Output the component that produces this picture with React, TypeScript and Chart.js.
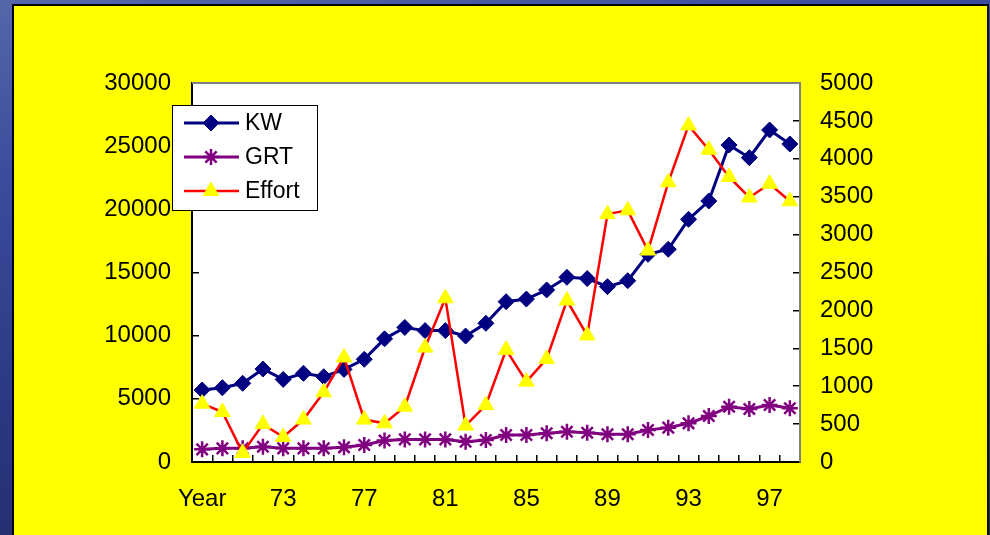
import React, { useEffect, useRef } from 'react';
import { Chart, registerables } from 'chart.js';
import { drawPoint } from 'chart.js/helpers';

Chart.register(...registerables);

const categories = ['Year', '70', '71', '72', '73', '74', '75', '76', '77', '78', '79', '80', '81', '82', '83', '84', '85', '86', '87', '88', '89', '90', '91', '92', '93', '94', '95', '96', '97', '98'];
const kwValues = [5700, 5880, 6230, 7360, 6540, 7020, 6750, 7330, 8130, 9750, 10650, 10400, 10400, 9970, 10980, 12690, 12900, 13620, 14620, 14520, 13880, 14350, 16440, 16840, 19210, 20660, 25090, 24090, 26280, 25170];
const grtValues = [1000, 1080, 1080, 1210, 1080, 1080, 1080, 1160, 1345, 1700, 1790, 1790, 1790, 1610, 1740, 2140, 2140, 2270, 2400, 2320, 2190, 2190, 2530, 2720, 3060, 3640, 4380, 4200, 4510, 4250];
const effortValues = [770, 660, 120, 500, 330, 560, 920, 1380, 560, 510, 730, 1510, 2160, 480, 750, 1480, 1060, 1360, 2130, 1670, 3270, 3320, 2790, 3690, 4440, 4120, 3760, 3490, 3670, 3440];
const seriesNames = ['KW', 'GRT', 'Effort'];
const leftAxisMax = 30000;
const leftAxisStep = 5000;
const rightAxisMax = 5000;
const rightAxisStep = 500;

const FONT = '"Liberation Sans", Arial, sans-serif';
const NAVY = '#000080';
const PURPLE = '#800080';
const RED = '#FF0000';
const YELLOW = '#FFFF00';

const legendStyles = [
  { line: NAVY, fill: NAVY, stroke: NAVY, pointStyle: 'rectRot', radius: 8, borderWidth: 1, lineWidth: 3 },
  { line: PURPLE, fill: PURPLE, stroke: PURPLE, pointStyle: 'star', radius: 8, borderWidth: 2.5, lineWidth: 3 },
  { line: RED, fill: YELLOW, stroke: YELLOW, pointStyle: 'triangle', radius: 9, borderWidth: 1, lineWidth: 2.5 },
];

const framePlugin = {
  id: 'framePlugin',
  beforeDraw(chart: any) {
    const { ctx, chartArea: a } = chart;
    ctx.save();
    ctx.fillStyle = '#FFFFFF';
    ctx.fillRect(a.left, a.top, a.right - a.left, a.bottom - a.top);
    ctx.restore();
  },
  afterDatasetsDraw(chart: any) {
    const { ctx, chartArea: a } = chart;
    ctx.save();
    ctx.strokeStyle = '#808080';
    ctx.lineWidth = 2;
    ctx.beginPath();
    ctx.moveTo(a.left, a.top);
    ctx.lineTo(a.right, a.top);
    ctx.stroke();
    ctx.restore();
  },
  afterDraw(chart: any) {
    const { ctx, chartArea: a } = chart;
    const bx = a.left - 20;
    const by = a.top + 22;
    const bw = 145;
    const bh = 105;
    ctx.save();
    ctx.fillStyle = '#FFFFFF';
    ctx.fillRect(bx, by, bw, bh);
    ctx.strokeStyle = '#000000';
    ctx.lineWidth = 1;
    ctx.strokeRect(bx + 0.5, by + 0.5, bw, bh);
    seriesNames.forEach((name, i) => {
      const s = legendStyles[i];
      const y = by + 18 + i * 34;
      ctx.strokeStyle = s.line;
      ctx.lineWidth = s.lineWidth;
      ctx.beginPath();
      ctx.moveTo(bx + 12, y);
      ctx.lineTo(bx + 67, y);
      ctx.stroke();
      ctx.fillStyle = s.fill;
      ctx.strokeStyle = s.stroke;
      ctx.lineWidth = s.borderWidth;
      drawPoint(ctx, { pointStyle: s.pointStyle, radius: s.radius, borderWidth: s.borderWidth, rotation: 0 } as any, bx + 39, y);
      ctx.fillStyle = '#000000';
      ctx.font = `23px ${FONT}`;
      ctx.textBaseline = 'middle';
      ctx.textAlign = 'left';
      ctx.fillText(name, bx + 73, y + 1);
    });
    ctx.restore();
  },
};

export default function App() {
  const canvasRef = useRef<HTMLCanvasElement | null>(null);

  useEffect(() => {
    const canvas = canvasRef.current;
    if (!canvas) return;
    const chart = new Chart(canvas, {
      type: 'line',
      data: {
        labels: categories,
        datasets: [
          {
            label: seriesNames[0],
            data: kwValues,
            yAxisID: 'y',
            borderColor: NAVY,
            backgroundColor: NAVY,
            borderWidth: 3,
            pointStyle: 'rectRot',
            pointRadius: 8,
            pointBorderWidth: 1,
            pointBackgroundColor: NAVY,
            pointBorderColor: NAVY,
            tension: 0,
            order: 2,
            clip: false,
          },
          {
            label: seriesNames[1],
            data: grtValues,
            yAxisID: 'y',
            borderColor: PURPLE,
            backgroundColor: PURPLE,
            borderWidth: 3,
            pointStyle: 'star',
            pointRadius: 8,
            pointBorderWidth: 2.5,
            pointBackgroundColor: PURPLE,
            pointBorderColor: PURPLE,
            tension: 0,
            order: 1,
            clip: false,
          },
          {
            label: seriesNames[2],
            data: effortValues,
            yAxisID: 'y1',
            borderColor: RED,
            backgroundColor: YELLOW,
            borderWidth: 2.5,
            pointStyle: 'triangle',
            pointRadius: 9,
            pointBorderWidth: 1,
            pointBackgroundColor: YELLOW,
            pointBorderColor: YELLOW,
            tension: 0,
            order: 0,
            clip: false,
          },
        ],
      },
      options: {
        responsive: false,
        animation: false,
        layout: { padding: { left: 72, right: 70, top: 83, bottom: 23 } },
        plugins: {
          legend: { display: false },
          tooltip: { enabled: false },
          title: { display: false },
        },
        scales: {
          x: {
            type: 'category',
            offset: true,
            grid: {
              offset: true,
              drawOnChartArea: false,
              drawTicks: true,
              tickLength: -7,
              color: '#000000',
              lineWidth: 1.5,
            },
            border: { display: true, color: '#000000', width: 2 },
            ticks: {
              autoSkip: false,
              maxRotation: 0,
              minRotation: 0,
              padding: 30,
              color: '#000000',
              font: { family: FONT, size: 24 },
              callback: (_v: any, i: number) => (i % 4 === 0 ? categories[i] : ''),
            },
            afterFit: (s: any) => { s.height = 50; },
          },
          y: {
            type: 'linear',
            position: 'left',
            min: 0,
            max: leftAxisMax,
            grid: {
              drawOnChartArea: false,
              drawTicks: true,
              tickLength: -7,
              color: '#000000',
              lineWidth: 1.5,
            },
            border: { display: true, color: '#000000', width: 2 },
            ticks: {
              stepSize: leftAxisStep,
              padding: 28,
              color: '#000000',
              font: { family: FONT, size: 24 },
              callback: (v: any) => String(v),
            },
            afterFit: (s: any) => { s.width = 120; },
          },
          y1: {
            type: 'linear',
            position: 'right',
            min: 0,
            max: rightAxisMax,
            grid: {
              drawOnChartArea: false,
              drawTicks: true,
              tickLength: -7,
              color: '#000000',
              lineWidth: 1.5,
            },
            border: { display: true, color: '#808080', width: 2 },
            ticks: {
              stepSize: rightAxisStep,
              padding: 27,
              color: '#000000',
              font: { family: FONT, size: 24 },
              callback: (v: any) => String(v),
            },
            afterFit: (s: any) => { s.width = 120; },
          },
        },
      },
      plugins: [framePlugin],
    } as any);
    return () => chart.destroy();
  }, []);

  return (
    <div
      style={{
        position: 'absolute',
        left: 0,
        top: 0,
        width: 990,
        height: 535,
        overflow: 'hidden',
        background: 'linear-gradient(170deg, #5566aa 0%, #3c4c9c 25%, #2a3680 60%, #1d275c 100%)',
      }}
    >
      <div
        style={{
          position: 'absolute',
          left: 12,
          top: 4,
          width: 977,
          height: 545,
          boxSizing: 'border-box',
          background: YELLOW,
          borderLeft: '2px solid #000',
          borderTop: '2px solid #000',
          borderRight: '2px solid #111',
        }}
      />
      <canvas
        ref={canvasRef}
        width={990}
        height={535}
        style={{ position: 'absolute', left: 0, top: 0, width: 990, height: 535 }}
      />
    </div>
  );
}
